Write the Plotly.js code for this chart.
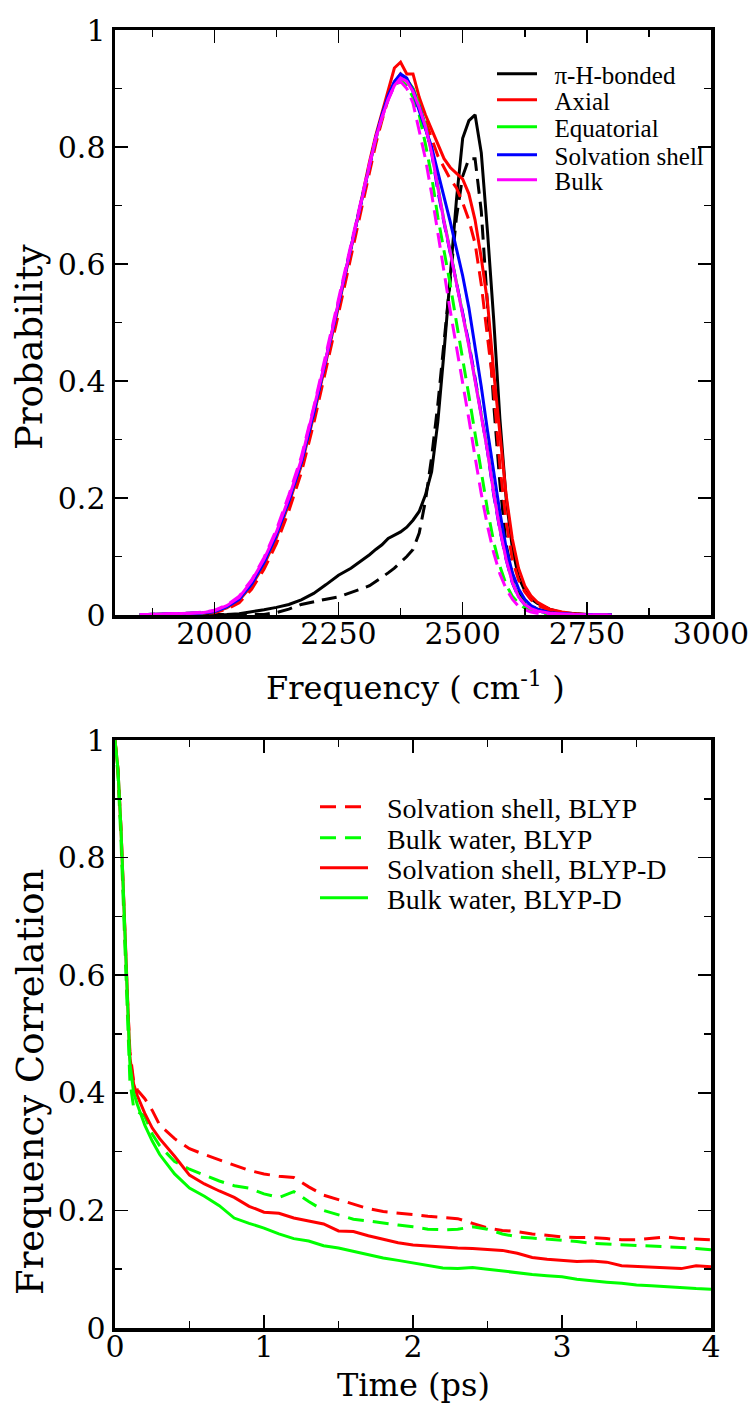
<!DOCTYPE html>
<html><head><meta charset="utf-8">
<script src="https://cdn.plot.ly/plotly-3.0.1.min.js"></script>
<style>
html,body{margin:0;padding:0;background:#fff}
#chart{width:755px;height:1408px}
</style>
</head><body><div id="chart"></div>
<script>
// ---------- Top panel: frequency distributions ----------
const freq = [1850,1875,1900,1925,1950,1975,2000,2025,2050,2075,2100,2125,2150,2175,2200,2225,2250,2275,2300,
  2312.5,2325,2337.5,2350,2362.5,2375,2387.5,2400,2412.5,2425,2437.5,2450,2462.5,2475,2487.5,2500,2512.5,2525,2537.5,
  2550,2562.5,2575,2587.5,2600,2612.5,2625,2637.5,2650,2675,2700,2725,2750,2775,2800];
const piHSolid = [0,0,0,0,0,0,0.0005,0.001,0.002,0.005,0.009,0.013,0.018,0.026,0.037,0.052,0.068,0.08,0.095,
  0.103,0.112,0.12,0.131,0.137,0.142,0.15,0.162,0.177,0.205,0.245,0.33,0.45,0.58,0.71,0.815,0.845,0.855,0.79,0.655,0.505,0.335,0.2,0.115,0.065,0.042,0.028,0.02,0.01,0.004,0.002,0.001,0.0005,0];
const piHDash = [0,0,0,0,0,0,0,0,0,0,0.001,0.004,0.01,0.018,0.023,0.027,0.031,0.038,0.046,
  0.05,0.057,0.064,0.072,0.08,0.09,0.1,0.112,0.14,0.195,0.27,0.36,0.47,0.575,0.68,0.75,0.78,0.78,0.69,0.53,0.36,0.225,0.12,0.07,0.04,0.025,0.016,0.01,0.005,0.002,0.001,0,0,0];
const axialSolid = [0.0003,0.0006,0.001,0.0015,0.0022,0.003,0.005,0.012,0.025,0.05,0.086,0.132,0.19,0.255,0.34,0.432,0.527,0.625,0.728,
  0.775,0.82,0.86,0.9,0.935,0.945,0.925,0.925,0.885,0.855,0.83,0.805,0.78,0.765,0.755,0.745,0.72,0.675,0.61,0.535,0.415,0.31,0.205,0.13,0.08,0.05,0.033,0.022,0.01,0.005,0.002,0.001,0.0005,0];
const axialDash = [0.0002,0.0005,0.0008,0.0012,0.002,0.0028,0.004,0.01,0.021,0.044,0.078,0.122,0.178,0.243,0.327,0.42,0.515,0.612,0.71,
  0.758,0.805,0.845,0.882,0.91,0.925,0.915,0.9,0.875,0.845,0.815,0.785,0.765,0.745,0.73,0.705,0.675,0.635,0.565,0.475,0.385,0.255,0.16,0.095,0.06,0.04,0.026,0.017,0.008,0.003,0.001,0.0005,0,0];
const equatSolid = [0.0003,0.0008,0.001,0.0015,0.0025,0.0035,0.006,0.014,0.027,0.053,0.09,0.137,0.195,0.26,0.345,0.437,0.532,0.628,0.722,
  0.77,0.815,0.852,0.885,0.908,0.92,0.915,0.9,0.872,0.838,0.792,0.73,0.674,0.622,0.57,0.518,0.462,0.402,0.342,0.282,0.21,0.148,0.097,0.057,0.032,0.019,0.012,0.007,0.003,0.0015,0.001,0.0005,0,0];
const equatDash = [0.0004,0.0008,0.001,0.0018,0.003,0.004,0.007,0.015,0.029,0.056,0.093,0.14,0.198,0.263,0.348,0.44,0.535,0.63,0.724,
  0.77,0.813,0.85,0.882,0.905,0.915,0.905,0.885,0.855,0.805,0.75,0.68,0.625,0.565,0.5,0.44,0.375,0.31,0.245,0.18,0.125,0.083,0.052,0.032,0.02,0.012,0.007,0.004,0.002,0.001,0.0005,0,0,0];
const shellSolid = [0.0003,0.0008,0.001,0.0015,0.0025,0.0035,0.006,0.014,0.027,0.053,0.09,0.137,0.195,0.26,0.345,0.437,0.532,0.628,0.722,
  0.77,0.816,0.855,0.888,0.912,0.925,0.918,0.895,0.862,0.83,0.8,0.757,0.717,0.672,0.626,0.58,0.525,0.46,0.39,0.315,0.245,0.175,0.115,0.072,0.045,0.027,0.016,0.01,0.004,0.002,0.001,0.0005,0,0];
const shellDash = [0.0003,0.0008,0.001,0.0015,0.0025,0.0035,0.006,0.014,0.027,0.053,0.09,0.137,0.195,0.26,0.345,0.437,0.532,0.628,0.722,
  0.77,0.815,0.852,0.885,0.91,0.922,0.915,0.897,0.87,0.835,0.79,0.725,0.67,0.62,0.57,0.52,0.465,0.405,0.345,0.28,0.205,0.145,0.095,0.055,0.03,0.018,0.012,0.007,0.003,0.0015,0.001,0.0005,0,0];
const bulkSolid = [0.0005,0.001,0.001,0.002,0.003,0.004,0.007,0.016,0.03,0.058,0.095,0.142,0.2,0.265,0.35,0.44,0.535,0.63,0.725,
  0.77,0.815,0.85,0.882,0.905,0.918,0.912,0.895,0.868,0.835,0.79,0.728,0.672,0.62,0.568,0.515,0.46,0.4,0.34,0.28,0.208,0.146,0.095,0.056,0.031,0.018,0.011,0.007,0.003,0.0015,0.001,0.0005,0,0];
const bulkDash = [0.0005,0.001,0.0015,0.002,0.003,0.005,0.008,0.017,0.032,0.06,0.098,0.146,0.205,0.27,0.355,0.447,0.54,0.635,0.728,
  0.772,0.815,0.85,0.88,0.905,0.912,0.9,0.875,0.83,0.78,0.72,0.652,0.585,0.52,0.458,0.398,0.335,0.27,0.207,0.152,0.106,0.07,0.045,0.027,0.015,0.009,0.005,0.003,0.001,0.0005,0,0,0,0];

const topNames = ['\u03c0-H-bonded','Axial','Equatorial','Solvation shell','Bulk'];
const topColors = ['#000000','#ff0000','#00ff00','#0000ff','#ff00ff'];
const topSolid = [piHSolid, axialSolid, equatSolid, shellSolid, bulkSolid];
const topDash = [piHDash, axialDash, equatDash, shellDash, bulkDash];
const freqTicks = [2000,2250,2500,2750,3000];

// ---------- Bottom panel: frequency correlation ----------
const time = [0,0.02,0.04,0.06,0.08,0.1,0.125,0.15,0.2,0.25,0.3,
  0.4,0.5,0.6,0.7,0.8,0.9,1.0,1.1,1.2,1.3,1.4,1.5,1.6,1.7,1.8,1.9,2.0,2.1,2.2,2.3,2.4,2.5,2.6,2.7,2.8,2.9,3.0,3.1,3.2,3.3,3.4,3.5,3.6,3.7,3.8,3.9,4.0];
const shellBLYP = [1,0.95,0.85,0.71,0.58,0.47,0.42,0.405,0.39,0.37,0.345,
  0.322,0.305,0.295,0.286,0.278,0.268,0.262,0.258,0.256,0.24,0.226,0.218,0.21,0.203,0.198,0.196,0.193,0.19,0.188,0.186,0.178,0.17,0.166,0.164,0.16,0.157,0.155,0.154,0.154,0.152,0.15,0.15,0.152,0.155,0.152,0.151,0.15];
const bulkBLYP = [1,0.94,0.83,0.69,0.55,0.42,0.375,0.368,0.36,0.33,0.31,
  0.283,0.27,0.26,0.25,0.242,0.238,0.228,0.222,0.232,0.215,0.2,0.192,0.185,0.182,0.178,0.175,0.172,0.168,0.167,0.168,0.172,0.168,0.16,0.155,0.153,0.151,0.15,0.147,0.144,0.143,0.142,0.141,0.14,0.138,0.137,0.135,0.133];
const shellBLYPD = [1,0.95,0.85,0.71,0.57,0.46,0.415,0.395,0.365,0.34,0.322,
  0.292,0.26,0.245,0.233,0.222,0.207,0.197,0.195,0.187,0.182,0.177,0.165,0.164,0.157,0.151,0.145,0.141,0.139,0.137,0.136,0.135,0.134,0.132,0.127,0.12,0.117,0.115,0.113,0.114,0.112,0.106,0.105,0.104,0.103,0.101,0.106,0.104];
const bulkBLYPD = [1,0.95,0.85,0.71,0.57,0.45,0.4,0.38,0.345,0.318,0.295,
  0.262,0.238,0.224,0.208,0.187,0.178,0.17,0.16,0.152,0.148,0.14,0.136,0.13,0.125,0.119,0.115,0.111,0.107,0.102,0.101,0.103,0.1,0.097,0.093,0.091,0.089,0.087,0.083,0.08,0.078,0.076,0.073,0.072,0.07,0.069,0.067,0.066];

const botNames = ['Solvation shell, BLYP','Bulk water, BLYP','Solvation shell, BLYP-D','Bulk water, BLYP-D'];
const botColors = ['#ff0000','#00ff00','#ff0000','#00ff00'];
const botDash = ['16px,9px','16px,9px','solid','solid'];
const botSeries = [shellBLYP, bulkBLYP, shellBLYPD, bulkBLYPD];
const timeTicks = [0,1,2,3,4];
const corrTicks = [0,0.2,0.4,0.6,0.8,1];
const probTicks = [0,0.2,0.4,0.6,0.8,1];

// ---------- layout helpers (pixel -> paper) ----------
const W = 755, H = 1408, ML = 115, MR = 44, MT = 30, MB = 80;
const PW = W - ML - MR, PH = H - MT - MB;
const px2x = px => (px - ML) / PW;
const py2y = py => (H - MB - py) / PH;
const BIG = 'DejaVu Serif';
const SMALL = 'Liberation Serif';
const PAD = '\u00a0\u00a0';

const traces = [];
topSolid.forEach((ys, i) => {
  traces.push({x: freq, y: ys, type: 'scatter', mode: 'lines', name: PAD + topNames[i],
    line: {color: topColors[i], width: 3}, xaxis: 'x', yaxis: 'y',
    legend: i === 0 ? 'legend' : 'legend' + (i + 1), showlegend: true});
});
topDash.forEach((ys, i) => {
  traces.push({x: freq, y: ys, type: 'scatter', mode: 'lines', name: topNames[i] + ' (dashed)',
    line: {color: topColors[i], width: 3, dash: '15px,8px'}, xaxis: 'x', yaxis: 'y', showlegend: false});
});
const ordered = [];
for (let i = 0; i < 5; i++) { ordered.push(traces[i]); ordered.push(traces[i + 5]); }
botSeries.forEach((ys, i) => {
  ordered.push({x: time, y: ys, type: 'scatter', mode: 'lines', name: PAD + botNames[i],
    line: {color: botColors[i], width: 3, dash: botDash[i]}, xaxis: 'x2', yaxis: 'y2',
    legend: 'legend' + (i + 6), showlegend: true});
});

function minorOf(dtick, tick0) {
  return {ticks: 'inside', ticklen: 7, tickwidth: 1.5, tickcolor: '#000', dtick: dtick, tick0: tick0, showgrid: false};
}
function axisStyle(extra) {
  return Object.assign({
    showline: true, linecolor: '#000', linewidth: 3.5, mirror: 'allticks',
    ticks: 'inside', ticklen: 13, tickwidth: 1.5, tickcolor: '#000',
    showgrid: false, zeroline: false, automargin: false,
    tickfont: {family: BIG, size: 30, color: '#000'}
  }, extra);
}

const topRows = [74, 100, 127, 155, 180];
const botRows = [807, 838, 868, 898];
const layout = {
  width: W, height: H, paper_bgcolor: '#fff', plot_bgcolor: '#fff',
  margin: {l: ML, r: MR, t: MT, b: MB},
  showlegend: true,
  xaxis: axisStyle({domain: [0, 1], anchor: 'y', range: [1800, 3000], tickvals: freqTicks, minor: minorOf(125, 1875), ticklabelstandoff: -11}),
  yaxis: axisStyle({domain: [py2y(615), 1], anchor: 'x', range: [0, 1], tickvals: probTicks, minor: minorOf(0.1, 0)}),
  xaxis2: axisStyle({domain: [0, 1], anchor: 'y2', range: [0, 4], tickvals: timeTicks, minor: minorOf(0.5, 0), ticklabelstandoff: -11}),
  yaxis2: axisStyle({domain: [0, py2y(740)], anchor: 'x2', range: [0, 1], tickvals: corrTicks, minor: minorOf(0.1, 0)}),
  annotations: [
    {text: 'Frequency ( cm<sup>-1</sup> )', xref: 'paper', yref: 'paper', x: px2x(415), y: py2y(686),
      xanchor: 'center', yanchor: 'middle', showarrow: false, font: {family: BIG, size: 32, color: '#000'}},
    {text: 'Probability', xref: 'paper', yref: 'paper', x: px2x(30), y: py2y(347), textangle: -90,
      xanchor: 'center', yanchor: 'middle', showarrow: false, font: {family: BIG, size: 37, color: '#000'}},
    {text: 'Time (ps)', xref: 'paper', yref: 'paper', x: px2x(413), y: py2y(1385),
      xanchor: 'center', yanchor: 'middle', showarrow: false, font: {family: BIG, size: 32, color: '#000'}},
    {text: 'Frequency Correlation', xref: 'paper', yref: 'paper', x: px2x(30), y: py2y(1082), textangle: -90,
      xanchor: 'center', yanchor: 'middle', showarrow: false, font: {family: BIG, size: 37, color: '#000'}}
  ]
};
topRows.forEach((py, i) => {
  layout[i === 0 ? 'legend' : 'legend' + (i + 1)] = {x: px2x(492), y: py2y(py), xanchor: 'left', yanchor: 'middle',
    visible: true, bgcolor: 'rgba(0,0,0,0)', borderwidth: 0, itemwidth: 40, font: {family: SMALL, size: 25, color: '#000'}};
});
botRows.forEach((py, i) => {
  layout['legend' + (i + 6)] = {x: px2x(315), y: py2y(py), xanchor: 'left', yanchor: 'middle',
    visible: true, bgcolor: 'rgba(0,0,0,0)', borderwidth: 0, itemwidth: 48, font: {family: SMALL, size: 28, color: '#000'}};
});

Plotly.newPlot('chart', ordered, layout, {displayModeBar: false, staticPlot: true});
</script></body></html>
